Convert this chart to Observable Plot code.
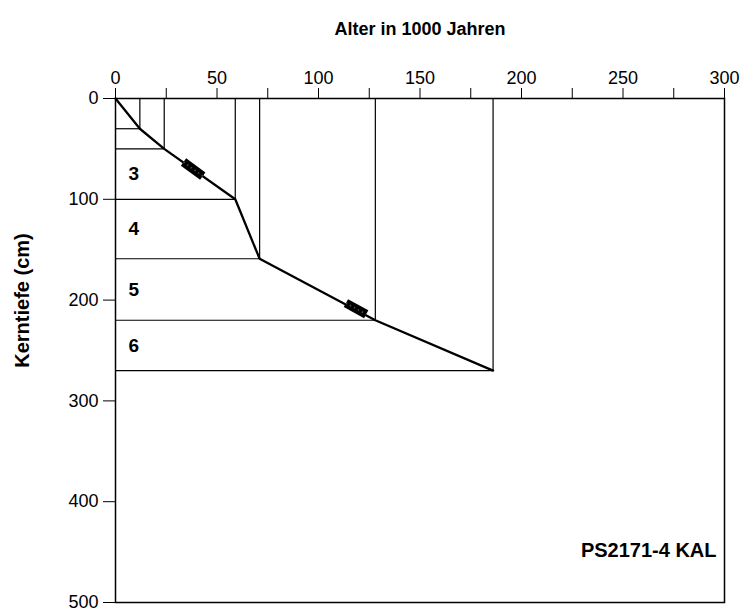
<!DOCTYPE html>
<html>
<head>
<meta charset="utf-8">
<script src="https://cdn.jsdelivr.net/npm/d3@7"></script>
<script src="https://cdn.jsdelivr.net/npm/@observablehq/plot@0.6"></script>
<style>
  html, body { margin: 0; padding: 0; background: #fff; }
  #chart { width: 745px; height: 614px; }
</style>
</head>
<body>
<div id="chart"></div>
<script>
// Age–depth model of core PS2171-4 KAL: isotope stage boundaries
const boundaryAges   = [0, 12, 24, 59, 71, 128, 186];   // ka
const boundaryDepths = [0, 30, 50, 100, 159, 220, 270]; // cm

// Stage numbers, placed mid-interval
const stageNames  = ["3", "4", "5", "6"];
const stageDepths = [75, 129.5, 189.5, 245];
const stageAge    = 9;

// Dated intervals drawn as bars along the curve
const dateAge1   = [33.5, 113.5];
const dateDepth1 = [63, 203];
const dateAge2   = [43, 123.5];
const dateDepth2 = [77, 214];

const xTicks = d3.range(0, 301, 25);
const yTicks = d3.range(0, 501, 100);

const points = boundaryAges.map((a, i) => ({age: a, depth: boundaryDepths[i]}));
const bounds = points.slice(1);
const stages = stageNames.map((s, i) => ({name: s, depth: stageDepths[i], age: stageAge}));
const dates = dateAge1.map((a, i) => ({a1: a, d1: dateDepth1[i], a2: dateAge2[i], d2: dateDepth2[i]}));

const font = "'Liberation Sans', Arial, Helvetica, sans-serif";

const chart = Plot.plot({
  width: 745,
  height: 614,
  marginTop: 98,
  marginRight: 21,
  marginBottom: 12,
  marginLeft: 115,
  style: {fontFamily: font, fontSize: "18px", color: "#000", background: "#fff"},
  x: {domain: [0, 300]},
  y: {domain: [0, 500], reverse: true},
  marks: [
    // stage boundary lines
    Plot.ruleY(bounds, {y: "depth", x1: () => 0, x2: "age", stroke: "#000", strokeWidth: 1.2}),
    Plot.ruleX(bounds, {x: "age", y1: () => 0, y2: "depth", stroke: "#000", strokeWidth: 1.2}),
    // age-depth curve
    Plot.line(points, {x: "age", y: "depth", stroke: "#000", strokeWidth: 2.3}),
    // dated intervals
    Plot.link(dates, {x1: "a1", y1: "d1", x2: "a2", y2: "d2", stroke: "#000", strokeWidth: 9}),
    Plot.link(dates, {x1: "a1", y1: "d1", x2: "a2", y2: "d2", stroke: "#fff", strokeWidth: 1.5, strokeDasharray: "1.5,3", strokeOpacity: 0.3}),
    // stage numbers
    Plot.text(stages, {x: "age", y: "depth", text: "name", fontWeight: "bold", fontSize: 19}),
    Plot.frame({stroke: "#000", strokeWidth: 1.5}),
    Plot.axisX({anchor: "top", ticks: xTicks, tickFormat: d => d % 50 ? "" : String(d), tickSize: 11, tickPadding: 4, label: null, fontSize: 18}),
    Plot.axisY({anchor: "left", ticks: yTicks, tickSize: 12, tickPadding: 5, label: null, fontSize: 18}),
    Plot.text(["Alter in 1000 Jahren"], {frameAnchor: "top", dy: -76, fontWeight: "bold", fontSize: 18}),
    Plot.text(["Kerntiefe (cm)"], {frameAnchor: "left", dx: -93, dy: -50, rotate: -90, textAnchor: "middle", fontWeight: "bold", fontSize: 20}),
    Plot.text(["PS2171-4 KAL"], {frameAnchor: "bottom-right", dx: -8, dy: -46, textAnchor: "end", fontWeight: "bold", fontSize: 20})
  ]
});
document.getElementById("chart").appendChild(chart);
</script>
</body>
</html>
